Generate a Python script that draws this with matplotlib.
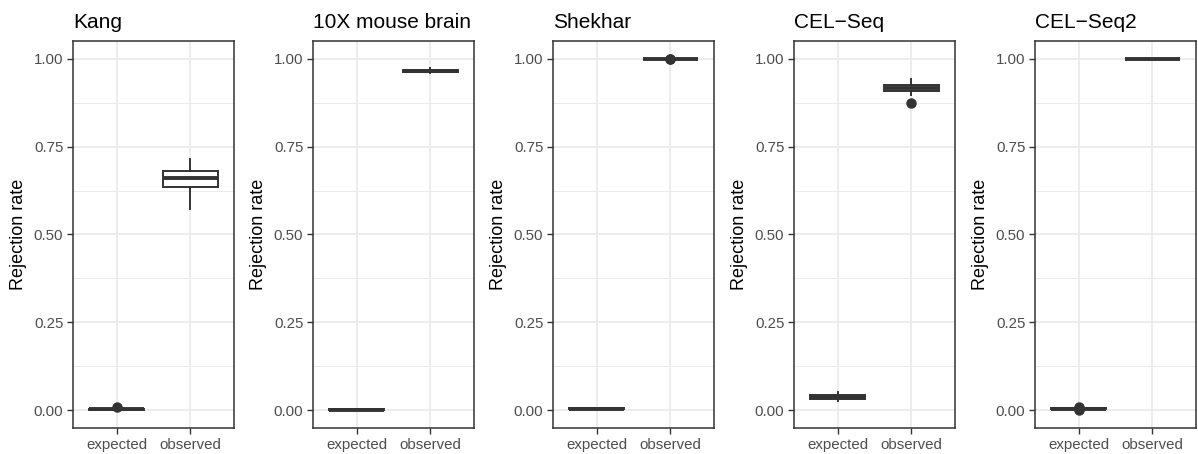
import numpy as np
import matplotlib
matplotlib.use('Agg')
import matplotlib.pyplot as plt
from matplotlib.ticker import MultipleLocator

plt.rcParams['font.family'] = ['Liberation Sans', 'DejaVu Sans']

# data (box stats per panel: expected, observed)
datasets = ['Kang', '10X mouse brain', 'Shekhar', 'CEL\u2212Seq', 'CEL\u2212Seq2']
groups = ['expected', 'observed']

exp_q1 = [0.001, 0.001, 0.004, 0.033, 0.003]
exp_med = [0.003, 0.002, 0.005, 0.038, 0.005]
exp_q3 = [0.004, 0.003, 0.006, 0.043, 0.007]
exp_lo = [0.0, 0.0, 0.003, 0.026, 0.001]
exp_hi = [0.006, 0.004, 0.007, 0.052, 0.010]
exp_fliers = [[0.009], [], [], [], [0.0, 0.003, 0.006, 0.011]]

obs_q1 = [0.635, 0.962, 0.999, 0.909, 0.999]
obs_med = [0.660, 0.965, 1.000, 0.917, 1.000]
obs_q3 = [0.681, 0.968, 1.000, 0.926, 1.000]
obs_lo = [0.572, 0.958, 0.998, 0.896, 0.999]
obs_hi = [0.714, 0.973, 1.000, 0.942, 1.000]
obs_fliers = [[], [], [0.998, 1.0], [0.874], []]

yticks = [0.00, 0.25, 0.50, 0.75, 1.00]
ytick_labels = ['0.00', '0.25', '0.50', '0.75', '1.00']

W, H = 1198, 454
fig = plt.figure(figsize=(W / 100, H / 100), dpi=100)

lefts = [73, 313, 553, 794, 1035]
pw = 161
top, bottom = 41, 428
dark = '#333333'

for i, name in enumerate(datasets):
    ax = fig.add_axes([lefts[i] / W, 1 - bottom / H, pw / W, (bottom - top) / H])
    stats = [
        dict(q1=exp_q1[i], med=exp_med[i], q3=exp_q3[i], whislo=exp_lo[i], whishi=exp_hi[i], fliers=exp_fliers[i]),
        dict(q1=obs_q1[i], med=obs_med[i], q3=obs_q3[i], whislo=obs_lo[i], whishi=obs_hi[i], fliers=obs_fliers[i]),
    ]
    ax.bxp(stats, positions=[1, 2], widths=0.75, showcaps=False, patch_artist=True,
           boxprops=dict(facecolor='white', edgecolor=dark, linewidth=1.4),
           medianprops=dict(color=dark, linewidth=2.8, solid_capstyle='butt'),
           whiskerprops=dict(color=dark, linewidth=1.4),
           flierprops=dict(marker='o', markerfacecolor=dark, markeredgecolor=dark, markersize=6.5))
    ax.set_xlim(0.4, 2.6)
    ax.set_ylim(-0.05, 1.05)
    ax.set_xticks([1, 2])
    ax.set_xticklabels(groups)
    ax.set_yticks(yticks)
    ax.set_yticklabels(ytick_labels)
    ax.yaxis.set_minor_locator(MultipleLocator(0.125))
    ax.set_axisbelow(True)
    ax.grid(which='major', color='#EBEBEB', linewidth=1.3)
    ax.grid(which='minor', axis='y', color='#EBEBEB', linewidth=0.7)
    ax.tick_params(which='minor', left=False)
    ax.tick_params(which='major', length=4, width=1, color=dark, labelsize=10.8,
                   labelcolor='#4D4D4D', pad=3)
    for s in ax.spines.values():
        s.set_color(dark)
        s.set_linewidth(1.1)
    ax.set_ylabel('Rejection rate', fontsize=13, labelpad=5)
    ax.set_title(name, fontsize=15, loc='left', pad=9)

fig.savefig('out.png', dpi=100)
